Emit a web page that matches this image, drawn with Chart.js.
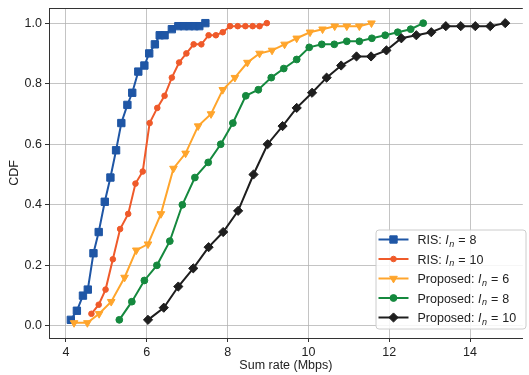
<!DOCTYPE html>
<html>
<head>
<meta charset="utf-8">
<script src="https://cdn.jsdelivr.net/npm/chart.js@4/dist/chart.umd.min.js"></script>
<style>
html,body{margin:0;padding:0;background:#fff;overflow:hidden;}
#wrap{width:529px;height:375px;position:relative;}
</style>
</head>
<body>
<div id="wrap"><canvas id="c" width="529" height="375"></canvas></div>
<script>
// ---- data ----
const risIn8X = [4.12,4.27,4.42,4.54,4.68,4.81,4.96,5.10,5.24,5.37,5.52,5.64,5.79,5.94,6.06,6.20,6.32,6.44,6.62,6.78,6.92,7.05,7.18,7.30,7.45];
const risIn8Y = [0.02,0.05,0.10,0.12,0.24,0.31,0.41,0.49,0.58,0.67,0.73,0.77,0.84,0.86,0.90,0.93,0.96,0.96,0.98,0.99,0.99,0.99,0.99,0.99,1.00];

const risIn10X = [4.63,4.81,4.98,5.16,5.34,5.54,5.72,5.90,6.07,6.26,6.44,6.62,6.80,6.98,7.16,7.35,7.53,7.71,7.88,8.06,8.25,8.44,8.62,8.79,8.97];
const risIn10Y = [0.04,0.07,0.12,0.22,0.32,0.37,0.47,0.51,0.67,0.72,0.76,0.82,0.87,0.90,0.93,0.93,0.96,0.96,0.97,0.99,0.99,0.99,0.99,0.99,1.00];

const propIn6X = [4.20,4.53,4.82,5.12,5.45,5.74,6.03,6.35,6.66,6.96,7.27,7.59,7.88,8.18,8.49,8.79,9.10,9.41,9.71,10.04,10.35,10.65,10.95,11.26,11.56];
const propIn6Y = [0.01,0.01,0.04,0.08,0.16,0.25,0.27,0.37,0.52,0.57,0.66,0.70,0.78,0.82,0.87,0.90,0.91,0.93,0.95,0.97,0.98,0.99,0.99,0.99,1.00];

const propIn8X = [5.32,5.63,5.94,6.25,6.57,6.88,7.19,7.52,7.83,8.13,8.45,8.76,9.08,9.39,9.71,10.02,10.33,10.64,10.95,11.26,11.57,11.90,12.21,12.53,12.84];
const propIn8Y = [0.02,0.08,0.15,0.20,0.28,0.40,0.49,0.54,0.60,0.67,0.76,0.78,0.82,0.85,0.88,0.92,0.93,0.93,0.94,0.94,0.95,0.96,0.97,0.98,1.00];

const propIn10X = [6.03,6.42,6.78,7.15,7.53,7.89,8.26,8.64,8.99,9.36,9.71,10.09,10.45,10.81,11.19,11.55,11.93,12.30,12.67,13.04,13.40,13.77,14.13,14.50,14.87];
const propIn10Y = [0.02,0.06,0.13,0.19,0.26,0.31,0.38,0.50,0.60,0.66,0.72,0.77,0.82,0.86,0.89,0.89,0.91,0.95,0.96,0.97,0.99,0.99,0.99,0.99,1.00];

const seriesPrefix = ["RIS: ", "RIS: ", "Proposed: ", "Proposed: ", "Proposed: "];
const seriesIn = ["8", "10", "6", "8", "10"];

const xTicks = [4, 6, 8, 10, 12, 14];
const yTicks = [0.0, 0.2, 0.4, 0.6, 0.8, 1.0];
const xTitle = "Sum rate (Mbps)";
const yTitle = "CDF";

// ---- styles ----
const FONT = "'Liberation Sans', Arial, Helvetica, sans-serif";
const colors = ["#1f56a5", "#ef5a2a", "#ffa52c", "#15893e", "#1e1e1e"];
const styles = [
  {pointStyle: "rect", radius: 5.2, rotation: 0},
  {pointStyle: "circle", radius: 2.8, rotation: 0},
  {pointStyle: "triangle", radius: 4.4, rotation: 180},
  {pointStyle: "circle", radius: 3.4, rotation: 0},
  {pointStyle: "rectRot", radius: 4.6, rotation: 0}
];
const xsList = [risIn8X, risIn10X, propIn6X, propIn8X, propIn10X];
const ysList = [risIn8Y, risIn10Y, propIn6Y, propIn8Y, propIn10Y];

const datasets = xsList.map((xs, i) => ({
  label: seriesPrefix[i] + "In = " + seriesIn[i],
  data: xs.map((x, k) => ({x: x, y: ysList[i][k]})),
  borderColor: colors[i],
  backgroundColor: colors[i],
  pointBackgroundColor: colors[i],
  pointBorderColor: colors[i],
  borderWidth: 2,
  pointBorderWidth: 1,
  pointStyle: styles[i].pointStyle,
  pointRadius: styles[i].radius,
  pointRotation: styles[i].rotation,
  pointHoverRadius: styles[i].radius,
  tension: 0,
  fill: false,
  order: 5 - i
}));

const frame = {
  id: "frame",
  afterDraw(chart) {
    const {ctx, chartArea: a} = chart;
    ctx.save();
    ctx.strokeStyle = "#333";
    ctx.lineWidth = 1;
    ctx.beginPath();
    ctx.moveTo(a.left, a.top + 0.5);
    ctx.lineTo(a.right, a.top + 0.5);
    ctx.stroke();
    ctx.restore();
  }
};

function drawMarker(ctx, st, x, y, color) {
  ctx.fillStyle = color;
  ctx.strokeStyle = color;
  ctx.lineWidth = 1;
  if (Chart.helpers && Chart.helpers.drawPoint) {
    Chart.helpers.drawPoint(ctx, {pointStyle: st.pointStyle, rotation: st.rotation, radius: st.radius, borderWidth: 1}, x, y);
  }
}

const legendBox = {
  id: "legendBox",
  afterDraw(chart) {
    const ctx = chart.ctx;
    const bx = 376, by = 230, bw = 150, bh = 99, r = 3;
    ctx.save();
    ctx.beginPath();
    ctx.moveTo(bx + r, by);
    ctx.lineTo(bx + bw - r, by);
    ctx.arcTo(bx + bw, by, bx + bw, by + r, r);
    ctx.lineTo(bx + bw, by + bh - r);
    ctx.arcTo(bx + bw, by + bh, bx + bw - r, by + bh, r);
    ctx.lineTo(bx + r, by + bh);
    ctx.arcTo(bx, by + bh, bx, by + bh - r, r);
    ctx.lineTo(bx, by + r);
    ctx.arcTo(bx, by, bx + r, by, r);
    ctx.closePath();
    ctx.fillStyle = "rgba(255,255,255,0.85)";
    ctx.fill();
    ctx.strokeStyle = "#cccccc";
    ctx.lineWidth = 1;
    ctx.stroke();

    const rowY0 = 239.5, rowStep = 19.5;
    const fs = 12.5;
    for (let i = 0; i < 5; i++) {
      const y = rowY0 + i * rowStep;
      ctx.strokeStyle = colors[i];
      ctx.lineWidth = 2;
      ctx.beginPath();
      ctx.moveTo(378.5, y);
      ctx.lineTo(408.5, y);
      ctx.stroke();
      drawMarker(ctx, styles[i], 393.5, y, colors[i]);

      ctx.fillStyle = "#222";
      ctx.textBaseline = "alphabetic";
      const base = y + 4.5;
      let x = 417.5;
      ctx.font = fs + "px " + FONT;
      ctx.fillText(seriesPrefix[i], x, base);
      x += ctx.measureText(seriesPrefix[i]).width;
      ctx.font = "italic " + fs + "px " + FONT;
      ctx.fillText("I", x, base);
      x += ctx.measureText("I").width + 0.5;
      ctx.font = "italic " + (fs * 0.72) + "px " + FONT;
      ctx.fillText("n", x, base + 2.5);
      x += ctx.measureText("n").width + 4;
      ctx.font = fs + "px " + FONT;
      ctx.fillText("=", x, base);
      x += ctx.measureText("=").width + 4;
      ctx.fillText(seriesIn[i], x, base);
    }
    ctx.restore();
  }
};

Chart.defaults.font.family = FONT;
Chart.defaults.font.size = 12.5;
Chart.defaults.color = "#222";

new Chart(document.getElementById("c"), {
  type: "line",
  data: {datasets: datasets},
  options: {
    responsive: false,
    animation: false,
    devicePixelRatio: 1,
    layout: {padding: {top: 8, right: 0, left: 0, bottom: 0}},
    plugins: {legend: {display: false}, tooltip: {enabled: false}},
    scales: {
      x: {
        type: "linear",
        min: 3.58,
        max: 15.305,
        afterBuildTicks: s => { s.ticks = xTicks.map(v => ({value: v})); },
        afterFit: s => { s.height = 37; s.paddingLeft = 0; s.paddingRight = 0; },
        ticks: {callback: v => String(v), padding: 3, maxRotation: 0, autoSkip: false, color: "#222"},
        grid: {color: "rgba(176,176,176,0.75)", lineWidth: 1, tickLength: 4, tickColor: "#333", drawTicks: true},
        border: {display: true, color: "#333", width: 1},
        title: {display: true, text: xTitle, padding: {top: 0, bottom: 2}, color: "#222"}
      },
      y: {
        type: "linear",
        min: -0.04,
        max: 1.05,
        afterBuildTicks: s => { s.ticks = yTicks.map(v => ({value: v})); },
        afterFit: s => { s.width = 49; s.paddingTop = 0; s.paddingBottom = 0; },
        ticks: {callback: v => Number(v).toFixed(1), padding: 3, autoSkip: false, color: "#222"},
        grid: {color: "rgba(176,176,176,0.75)", lineWidth: 1, tickLength: 4, tickColor: "#333", drawTicks: true},
        border: {display: true, color: "#333", width: 1},
        title: {display: true, text: yTitle, padding: {top: 7, bottom: 0}, color: "#222"}
      }
    }
  },
  plugins: [frame, legendBox]
});
</script>
</body>
</html>
